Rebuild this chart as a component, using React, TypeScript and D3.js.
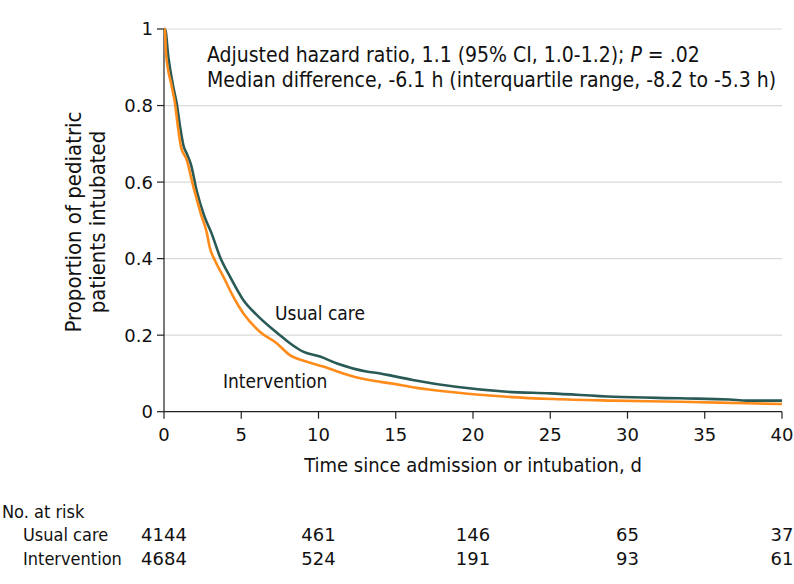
import React from "react";
import * as d3 from "d3";

const usualTime = [0, 0.07, 0.28, 0.6, 0.82, 1.04, 1.25, 1.5, 1.75, 2.1, 2.6, 3.08, 3.62, 4.27, 5.13, 6.0, 7.5, 8.15, 9.0, 10.1, 11.2, 13.1, 14.0, 14.85, 16.1, 18.9, 22.2, 25, 29.1, 33.4, 36.6, 37.7, 40];
const usualSurv = [1, 1, 0.928, 0.849, 0.806, 0.745, 0.697, 0.672, 0.645, 0.58, 0.512, 0.466, 0.405, 0.353, 0.292, 0.253, 0.2, 0.179, 0.157, 0.144, 0.126, 0.105, 0.1, 0.093, 0.083, 0.065, 0.052, 0.048, 0.039, 0.035, 0.032, 0.029, 0.029];

const interTime = [0, 0.05, 0.13, 0.5, 0.71, 0.9, 1.1, 1.47, 1.9, 2.4, 2.78, 2.95, 3.3, 3.84, 4.49, 5.13, 6.2, 7.29, 8.15, 9.2, 10.3, 11.6, 13.1, 14.0, 15.3, 16.1, 18.9, 22.2, 25.2, 29.1, 33.4, 37.7, 40];
const interSurv = [1, 1, 0.936, 0.85, 0.806, 0.745, 0.692, 0.658, 0.588, 0.515, 0.466, 0.431, 0.395, 0.353, 0.3, 0.257, 0.209, 0.179, 0.148, 0.131, 0.118, 0.1, 0.084, 0.078, 0.07, 0.064, 0.05, 0.039, 0.033, 0.029, 0.026, 0.022, 0.02];

const xTicks = [0, 5, 10, 15, 20, 25, 30, 35, 40];
const yTicks = [0, 0.2, 0.4, 0.6, 0.8, 1];
const riskTimes = [0, 10, 20, 30, 40];
const riskUsual = [4144, 461, 146, 65, 37];
const riskInter = [4684, 524, 191, 93, 61];

const W = 794;
const H = 584;
const COND = "'DejaVu Sans Condensed', 'DejaVu Sans', sans-serif";
const NUM = "'DejaVu Sans', sans-serif";
const DARK = "#2a5a55";
const ORANGE = "#ff8c1a";

export default function App() {
  const x = d3.scaleLinear().domain([0, 40]).range([164, 782]);
  const y = d3.scaleLinear().domain([0, 1]).range([411.7, 29]);
  const line = d3
    .line<[number, number]>()
    .x((d) => x(d[0]))
    .y((d) => y(d[1]))
    .curve(d3.curveMonotoneX);
  const usual = usualTime.map((t, i) => [t, usualSurv[i]] as [number, number]);
  const inter = interTime.map((t, i) => [t, interSurv[i]] as [number, number]);

  const rowNo = 518;
  const rowU = 541;
  const rowI = 565;

  return (
    <svg width={W} height={H} style={{ position: "absolute", left: 0, top: 0, background: "#fff" }}>
      {yTicks.filter((v) => v > 0).map((v) => (
        <line key={"g" + v} x1={x(0)} x2={x(40)} y1={y(v)} y2={y(v)} stroke="#d9d9d9" strokeWidth={1.2} />
      ))}
      <line x1={x(0)} x2={x(0)} y1={y(0)} y2={y(1)} stroke="#222" strokeWidth={1.2} />
      {yTicks.map((v) => (
        <g key={"y" + v}>
          <line x1={x(0) - 7} x2={x(0)} y1={y(v)} y2={y(v)} stroke="#222" strokeWidth={1.2} />
          <text x={153} y={y(v)} dy="0.36em" textAnchor="end" fontFamily={NUM} fontSize={18} fill="#111">
            {String(v)}
          </text>
        </g>
      ))}
      <line x1={x(0)} x2={x(40)} y1={y(0)} y2={y(0)} stroke="#222" strokeWidth={1.2} />
      {xTicks.map((t) => (
        <g key={"x" + t}>
          <line x1={x(t)} x2={x(t)} y1={y(0)} y2={y(0) + 7} stroke="#222" strokeWidth={1.2} />
          <text x={x(t)} y={441} textAnchor="middle" fontFamily={NUM} fontSize={18} fill="#111">
            {t}
          </text>
        </g>
      ))}
      <text x={473} y={472} textAnchor="middle" fontFamily={COND} fontSize={20} fill="#111">
        Time since admission or intubation, d
      </text>
      <text transform="translate(81,222) rotate(-90)" textAnchor="middle" fontFamily={COND} fontSize={22} fill="#111">
        Proportion of pediatric
      </text>
      <text transform="translate(105,222) rotate(-90)" textAnchor="middle" fontFamily={COND} fontSize={22} fill="#111">
        patients intubated
      </text>

      <path d={line(usual) ?? ""} fill="none" stroke={DARK} strokeWidth={2.6} />
      <path d={line(inter) ?? ""} fill="none" stroke={ORANGE} strokeWidth={2.6} />

      <text x={275} y={320} fontFamily={COND} fontSize={19} fill="#111">Usual care</text>
      <text x={223} y={388} fontFamily={COND} fontSize={19} fill="#111">Intervention</text>

      <text x={207} y={62} fontFamily={COND} fontSize={21} fill="#111">
        Adjusted hazard ratio, 1.1 (95% CI, 1.0-1.2); <tspan fontStyle="italic">P</tspan> = .02
      </text>
      <text x={207} y={87} fontFamily={COND} fontSize={21} fill="#111">
        Median difference, -6.1 h (interquartile range, -8.2 to -5.3 h)
      </text>

      <text x={2} y={rowNo} fontFamily={COND} fontSize={18} fill="#111">No. at risk</text>
      <text x={23} y={rowU} fontFamily={COND} fontSize={18} fill="#111">Usual care</text>
      <text x={23} y={rowI} fontFamily={COND} fontSize={18} fill="#111">Intervention</text>
      {riskTimes.map((t, i) => (
        <g key={"r" + t}>
          <text x={x(t)} y={rowU} textAnchor="middle" fontFamily={NUM} fontSize={18} fill="#111">{riskUsual[i]}</text>
          <text x={x(t)} y={rowI} textAnchor="middle" fontFamily={NUM} fontSize={18} fill="#111">{riskInter[i]}</text>
        </g>
      ))}
    </svg>
  );
}
